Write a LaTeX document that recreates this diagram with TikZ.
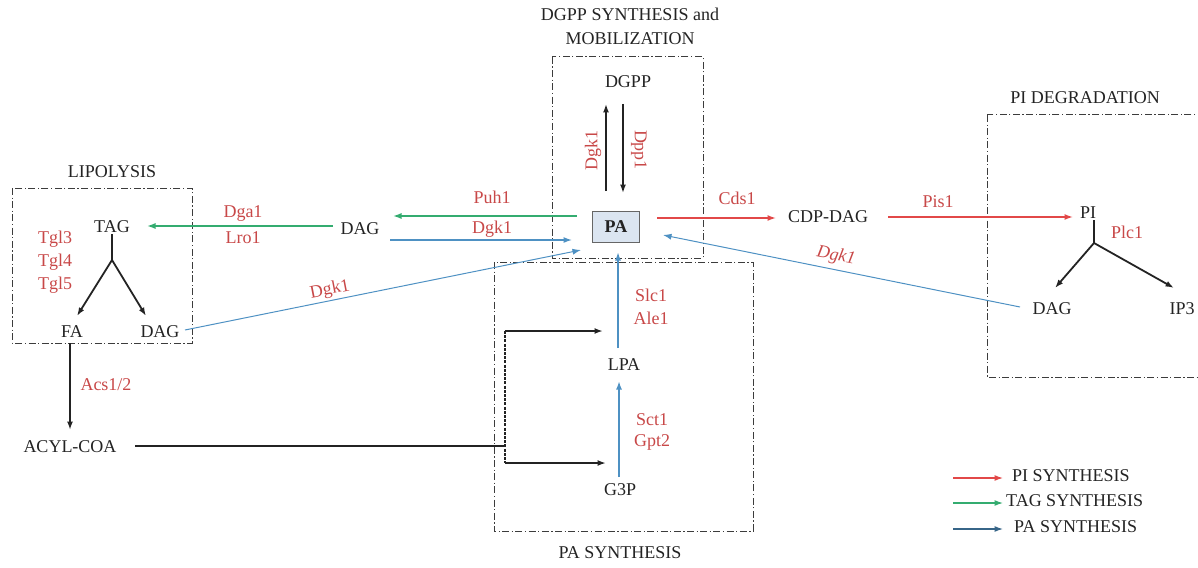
\documentclass[tikz,border=0pt]{standalone}
\usepackage{fontspec}
\setmainfont{Liberation Serif}
\usetikzlibrary{arrows.meta}
\definecolor{arrred}{RGB}{226,72,72}
\definecolor{labred}{RGB}{200,72,72}
\definecolor{arrgreen}{RGB}{52,172,112}
\definecolor{arrblue}{RGB}{78,145,195}
\definecolor{pafill}{RGB}{219,229,241}
\definecolor{txt}{RGB}{35,35,35}
\definecolor{boxgray}{RGB}{60,60,60}
\tikzset{
  every node/.style={font=\fontsize{18}{20}\selectfont, text=txt, inner sep=1pt},
  enz/.style={text=labred},
  grp/.style={draw=boxgray, line width=1pt, dash pattern=on 7pt off 2.5pt on 1.2pt off 2.5pt},
  tip/.style={-{Latex[length=8.5pt,width=6pt]}},
  redarr/.style={tip, draw=arrred, line width=1.4pt},
  greenarr/.style={tip, draw=arrgreen, line width=1.4pt},
  bluearr/.style={tip, draw=arrblue, line width=1.3pt},
  blkarr/.style={tip, draw=txt, line width=1.8pt},
  blk/.style={draw=txt, line width=1.8pt},
}
\begin{document}
\begin{tikzpicture}[x=1pt,y=-1pt]
\useasboundingbox (0,0) rectangle (1198,567);

% group boxes
\draw[grp] (12,188) rectangle (192,343);
\draw[grp] (552,57) rectangle (703,258);
\draw[grp] (494,262) rectangle (753,531);
\draw[grp] (987,115) rectangle (1210,377);

% titles
\node (tdgpp) at (630,14) {DGPP SYNTHESIS and};
\node (tmob) at (630,39) {MOBILIZATION};
\node (tlip) at (112,172) {LIPOLYSIS};
\node (tpid) at (1085,98) {PI DEGRADATION};
\node (tpas) at (620,553) {PA SYNTHESIS};

% molecules
\node[draw=gray!80!black, fill=pafill, line width=1pt, minimum width=47pt, minimum height=31pt, font=\fontsize{18}{20}\selectfont\bfseries] (pa) at (616,227) {PA};
\node (dgpp) at (628,82) {DGPP};
\node (dagm) at (360,229) {DAG};
\node (tag) at (112,227) {TAG};
\node (fa) at (72,332) {FA};
\node (dagl) at (160,332) {DAG};
\node (acyl) at (70,447) {ACYL-COA};
\node (lpa) at (624,365) {LPA};
\node (g3p) at (620,490) {G3P};
\node (cdp) at (828,217) {CDP-DAG};
\node (pi) at (1088,213) {PI};
\node (dagr) at (1052,309) {DAG};
\node (ip3) at (1182,309) {IP3};

% enzymes
\node[enz] (puh1) at (492,197) {Puh1};
\node[enz] (dgk1a) at (492,229) {Dgk1};
\node[enz] (dga1) at (243,213) {Dga1};
\node[enz] (lro1) at (243,238) {Lro1};
\node[enz] (tgl3) at (55,239) {Tgl3};
\node[enz] (tgl4) at (55,262) {Tgl4};
\node[enz] (tgl5) at (55,285) {Tgl5};
\node[enz, rotate=11] (dgk1b) at (330,290) {Dgk1};
\node[enz] (acs) at (106,385) {Acs1/2};
\node[enz, rotate=90] (dgk1c) at (593,150) {Dgk1};
\node[enz, rotate=-90] (dpp1) at (639,150) {Dpp1};
\node[enz] (cds1) at (737,198) {Cds1};
\node[enz] (pis1) at (938,202) {Pis1};
\node[enz] (plc1) at (1127,232) {Plc1};
\node[enz, rotate=-11, font=\fontsize{18}{20}\selectfont\itshape] (dgk1d) at (836,256) {Dgk1};
\node[enz] (slc1) at (651,295) {Slc1};
\node[enz] (ale1) at (651,318) {Ale1};
\node[enz] (sct1) at (652,420) {Sct1};
\node[enz] (gpt2) at (652,442) {Gpt2};

% connector coordinates
\coordinate (puhS) at (577,216); \coordinate (puhE) at (393,216);
\coordinate (dgkS) at (390,240); \coordinate (dgkE) at (572,240);
\coordinate (dgaS) at (333,226); \coordinate (dgaE) at (147,226);
\coordinate (dlS) at (185,330); \coordinate (dlE) at (581,250);
\coordinate (upS) at (606,191); \coordinate (upE) at (606,104);
\coordinate (dnS) at (623,104); \coordinate (dnE) at (623,193);
\coordinate (cdsS) at (657,218); \coordinate (cdsE) at (776,218);
\coordinate (pisS) at (888,217); \coordinate (pisE) at (1073,217);
\coordinate (pib) at (1094,243);
\coordinate (pil) at (1055,288); \coordinate (pir) at (1174,288);
\coordinate (drS) at (1020,307); \coordinate (drE) at (663,235);
\coordinate (tagb) at (112,260);
\coordinate (tagl) at (77,316); \coordinate (tagr) at (146,316);
\coordinate (faS) at (70,343); \coordinate (faE) at (70,430);
\coordinate (acS) at (135,446); \coordinate (acJ) at (505,446);
\coordinate (brT) at (505,331); \coordinate (brB) at (505,463);
\coordinate (lpaE) at (603,331); \coordinate (g3pE) at (606,463);
\coordinate (slS) at (618,348); \coordinate (slE) at (618,252);
\coordinate (scS) at (619,477); \coordinate (scE) at (619,381);

% connectors
\draw[greenarr] (puhS) -- (puhE);
\draw[bluearr] (dgkS) -- (dgkE);
\draw[greenarr] (dgaS) -- (dgaE);
\draw[bluearr, line width=1pt] (dlS) -- (dlE);
\draw[blkarr, line width=1.5pt] (upS) -- (upE);
\draw[blkarr, line width=1.5pt] (dnS) -- (dnE);
\draw[redarr] (cdsS) -- (cdsE);
\draw[redarr] (pisS) -- (pisE);
\draw[blk] (pi.south -| pib) -- (pib);
\draw[blkarr] (pib) -- (pil);
\draw[blkarr] (pib) -- (pir);
\draw[bluearr, line width=1pt] (drS) -- (drE);
\draw[blk] (tag.south) -- (tagb);
\draw[blkarr] (tagb) -- (tagl);
\draw[blkarr] (tagb) -- (tagr);
\draw[blkarr] (faS) -- (faE);
\draw[blk] (acS) -- (acJ);
\draw[draw=txt, line width=2pt, dash pattern=on 3pt off 1.2pt] (brT) -- (brB);
\draw[blkarr] (brT) -- (lpaE);
\draw[blkarr] (brB) -- (g3pE);
\draw[bluearr, line width=2pt] (slS) -- (slE);
\draw[bluearr, line width=2pt] (scS) -- (scE);

% legend
\coordinate (lg1S) at (953,478); \coordinate (lg1E) at (1003,478);
\coordinate (lg2S) at (953,503); \coordinate (lg2E) at (1003,503);
\coordinate (lg3S) at (953,529); \coordinate (lg3E) at (1003,529);
\draw[redarr, line width=1.2pt] (lg1S) -- (lg1E);
\draw[greenarr, line width=1.2pt] (lg2S) -- (lg2E);
\draw[draw=arrblue!70!black, tip, line width=1.2pt] (lg3S) -- (lg3E);
\node[anchor=west] (lt1) at (1011,476) {PI SYNTHESIS};
\node[anchor=west] (lt2) at (1005,501) {TAG SYNTHESIS};
\node[anchor=west] (lt3) at (1013,527) {PA SYNTHESIS};
\end{tikzpicture}
\end{document}
